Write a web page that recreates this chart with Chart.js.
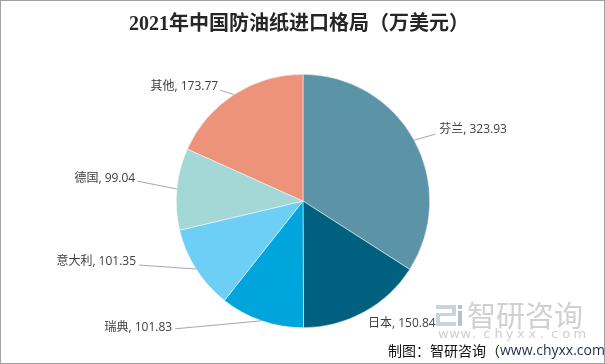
<!DOCTYPE html>
<html>
<head>
<meta charset="utf-8">
<script src="https://cdn.jsdelivr.net/npm/chart.js@4"></script>
<style>
html,body{margin:0;padding:0;background:#fff;}
#wrap{position:relative;width:605px;height:364px;}
</style>
</head>
<body>
<div id="wrap"><canvas id="c" width="605" height="364"></canvas></div>
<script>
const titleText = '2021年中国防油纸进口格局（万美元）';
const categories = ['芬兰', '日本', '瑞典', '意大利', '德国', '其他'];
const values = [323.93, 150.84, 101.83, 101.35, 99.04, 173.77];
const sliceColors = ['#5B93A7', '#00607F', '#00A5DB', '#6DCFF6', '#A3D8D6', '#EE937B'];

// label placement (style): text anchor offset from slice edge midpoint, leader line end offset
const labelStyle = [
  {dx: 25, dy: -11, align: 'left', line: [21, -6]},
  {dx: 4, dy: 11, align: 'left', line: null},
  {dx: -89.5, dy: 7, align: 'right', line: [-86.5, 8]},
  {dx: -60, dy: -7, align: 'right', line: [-57, -4]},
  {dx: -41.6, dy: -10.8, align: 'right', line: [-39.6, -7.8]},
  {dx: -16, dy: -8, align: 'right', line: [-14, -4.3]}
];

const decor = {
  id: 'decor',
  beforeDraw(chart) {
    const ctx = chart.ctx;
    ctx.save();
    ctx.fillStyle = '#fff';
    ctx.fillRect(0, 0, chart.width, chart.height);
    // watermark logo
    ctx.fillStyle = '#C9D3E0';
    ctx.fillRect(436, 305, 20, 4);
    ctx.fillRect(452, 305, 4, 10);
    ctx.fillRect(440, 313, 16, 3);
    ctx.fillRect(436, 313, 4, 13);
    ctx.fillRect(436, 322, 20, 4);
    ctx.fillStyle = '#B5C2D3';
    ctx.fillRect(458, 305, 4, 4);
    ctx.fillRect(458, 311, 4, 15);
    ctx.fillStyle = '#D0D0D0';
    ctx.font = '29px "Noto Sans CJK SC"';
    ctx.textBaseline = 'middle';
    ctx.textAlign = 'left';
    ctx.fillText('智研咨询', 467, 316);
    ctx.fillStyle = '#CFCFCF';
    ctx.font = '13px "DejaVu Sans"';
    const w = 'www.chyxx.com';
    for (let i = 0; i < w.length; i++) {
      ctx.fillText(w[i], 438 + i * 11.3, 335);
    }
    ctx.restore();
  },
  afterDraw(chart) {
    const ctx = chart.ctx;
    ctx.save();
    // title
    ctx.fillStyle = '#262626';
    ctx.font = 'bold 20px "Liberation Serif", "Noto Sans CJK SC"';
    ctx.textAlign = 'center';
    ctx.textBaseline = 'middle';
    ctx.fillText(titleText, 299, 25);
    // data labels
    const meta = chart.getDatasetMeta(0);
    ctx.font = '12px "Open Sans", "Noto Sans CJK SC"';
    meta.data.forEach((arc, i) => {
      const p = arc.getProps(['x', 'y', 'startAngle', 'endAngle', 'outerRadius'], true);
      const mid = (p.startAngle + p.endAngle) / 2;
      const ex = p.x + Math.cos(mid) * p.outerRadius;
      const ey = p.y + Math.sin(mid) * p.outerRadius;
      const s = labelStyle[i];
      if (s.line) {
        ctx.strokeStyle = '#A6A6A6';
        ctx.lineWidth = 1;
        ctx.beginPath();
        ctx.moveTo(ex, ey);
        ctx.lineTo(ex + s.line[0], ey + s.line[1]);
        ctx.stroke();
      }
      ctx.fillStyle = '#404040';
      ctx.textAlign = s.align;
      ctx.textBaseline = 'middle';
      ctx.fillText(categories[i] + ', ' + values[i].toFixed(2), ex + s.dx, ey + s.dy);
    });
    // source line
    ctx.textAlign = 'left';
    ctx.font = '14px "Noto Sans CJK SC"';
    ctx.fillStyle = '#111';
    const a = '制图：智研咨询（';
    ctx.fillText(a, 388, 351);
    let x = 388 + ctx.measureText(a).width;
    ctx.font = '14px "Open Sans", "Noto Sans CJK SC"';
    ctx.fillStyle = '#1F2D50';
    const b = 'www.chyxx.com';
    ctx.fillText(b, x, 351);
    x += ctx.measureText(b).width;
    ctx.font = '14px "Noto Sans CJK SC"';
    ctx.fillStyle = '#111';
    ctx.fillText('）', x, 351);
    // border
    ctx.strokeStyle = '#A0A0A0';
    ctx.lineWidth = 1;
    ctx.strokeRect(0.5, 0.5, chart.width - 1, chart.height - 1);
    ctx.restore();
  }
};

new Chart(document.getElementById('c'), {
  type: 'pie',
  data: {
    labels: categories,
    datasets: [{
      data: values,
      backgroundColor: sliceColors,
      borderColor: '#ffffff',
      borderWidth: 0.5
    }]
  },
  options: {
    responsive: false,
    animation: false,
    layout: {padding: {top: 74, bottom: 36, left: 176, right: 175}},
    plugins: {legend: {display: false}, tooltip: {enabled: false}, title: {display: false}}
  },
  plugins: [decor]
});
</script>
</body>
</html>
